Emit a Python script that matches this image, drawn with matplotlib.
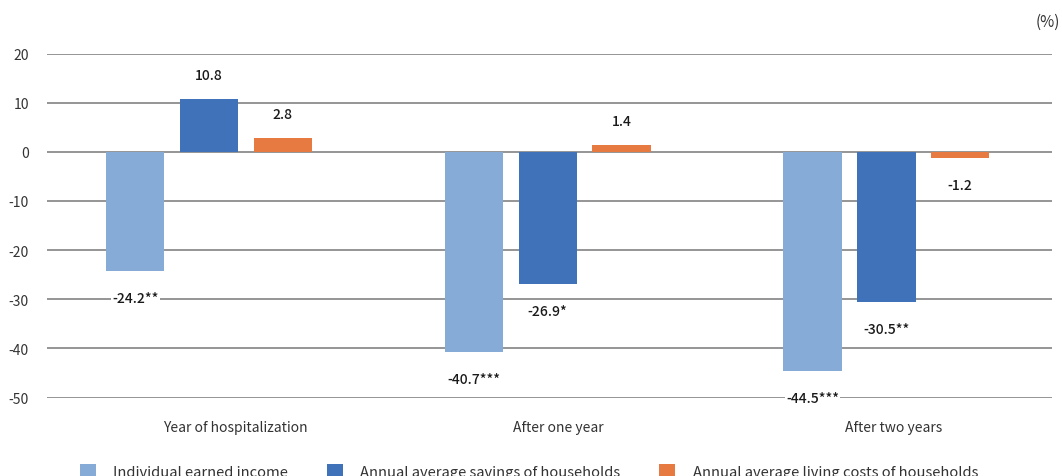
import matplotlib
matplotlib.use("Agg")
import matplotlib.pyplot as plt
import numpy as np

plt.rcParams['font.family'] = ['Noto Sans CJK JP', 'DejaVu Sans']

categories = ["Year of hospitalization", "After one year", "After two years"]
series_names = ["Individual earned income", "Annual average savings of households",
                "Annual average living costs of households"]
income = [-24.2, -40.7, -44.5]
savings = [10.8, -26.9, -30.5]
living = [2.8, 1.4, -1.2]
income_lbl = ["-24.2**", "-40.7***", "-44.5***"]
savings_lbl = ["10.8", "-26.9*", "-30.5**"]
living_lbl = ["2.8", "1.4", "-1.2"]
yticks = [20, 10, 0, -10, -20, -30, -40, -50]

colors = ["#86ABD6", "#3F72B9", "#E67A40"]

fig = plt.figure(figsize=(10.62, 4.77), dpi=100)
ax = fig.add_axes([0.0443, 0.1645, 0.9463, 0.7212])
ax.set_xlim(-0.478, 2.489)
ax.set_ylim(-50, 20)

x = np.arange(len(categories))
step = 0.218
width = 0.172
all_vals = [income, savings, living]
all_lbls = [income_lbl, savings_lbl, living_lbl]
for i, (vals, lbls) in enumerate(zip(all_vals, all_lbls)):
    xs = x + (i - 1) * step
    ax.bar(xs, vals, width=width, color=colors[i], zorder=3, label=series_names[i])
    for xi, v, l in zip(xs, vals, lbls):
        off = 24 if v >= 0 else -27
        ax.annotate(l, (xi, v), xytext=(0, off), textcoords="offset pixels",
                    ha="center", va="center", fontsize=10, color="#1a1a1a",
                    fontweight="medium",
                    bbox=dict(boxstyle="square,pad=0.1", fc="white", ec="none"),
                    zorder=4)

for yt in yticks:
    ax.axhline(yt, color="#8c8c8c", lw=1.3, zorder=1)

for s in ax.spines.values():
    s.set_visible(False)
ax.set_yticks(yticks)
ax.set_yticklabels([str(t) for t in yticks], fontsize=10, color="#333333")
label_shift = [0.077, 0.03, 0.02]
ax.set_xticks(x + np.array(label_shift))
ax.set_xticklabels(categories, fontsize=10, color="#333333")
ax.tick_params(axis="both", length=0)
ax.tick_params(axis="y", pad=13)
ax.tick_params(axis="x", pad=16)

fig.text(0.998, 0.953, "(%)", ha="right", va="center", fontsize=11, color="#333333")

leg = fig.legend(loc="center", bbox_to_anchor=(0.498, 0.010), ncol=3, frameon=False,
                 fontsize=10.6, handlelength=1.1, handleheight=1.1, handletextpad=1.2,
                 columnspacing=2.6, labelcolor="#333333")

fig.savefig("out.png", dpi=100)
